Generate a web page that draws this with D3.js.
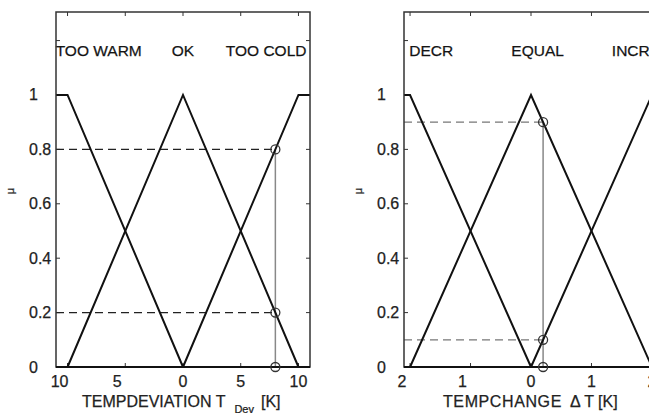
<!DOCTYPE html>
<html>
<head>
<meta charset="utf-8">
<script src="https://cdn.jsdelivr.net/npm/d3@7"></script>
<style>
  body { margin: 0; background: #fff; }
  svg { display: block; font-family: "Liberation Sans", Arial, sans-serif; }
  text { stroke: #222; stroke-width: 0.25px; }
</style>
</head>
<body>
<script>
// membership axis (shared by both panels)
var muDomain = [0, 1.305];
var muTicks = [0, 0.2, 0.4, 0.6, 0.8, 1, 1.2];
var muTickLabels = ["0", "0.2", "0.4", "0.6", "0.8", "1", ""];

// left panel: temperature deviation
var devDomain = [-11, 11];
var devTicks = [-10, -5, 0, 5, 10];
var devTickLabels = ["10", "5", "0", "5", "10"];
var devSetNames = ["TOO WARM", "OK", "TOO COLD"];
var devSetLabelX = [-7.3, 0, 7.2];
var devTooWarm = [[-11, 1], [-10, 1], [0, 0]];
var devOk = [[-10, 0], [0, 1], [10, 0]];
var devTooCold = [[0, 0], [10, 1], [11, 1]];
var devInput = 8;
var devHits = [0.8, 0.2, 0];

// right panel: temperature change
var chgDomain = [-2.1, 2.1];
var chgTicks = [-2, -1, 0, 1, 2];
var chgTickLabels = ["2", "1", "0", "1", "2"];
var chgSetNames = ["DECR", "EQUAL", "INCR"];
var chgSetLabelX = [-1.65, 0.11, 1.65];
var chgDecr = [[-2.1, 1], [-2, 1], [0, 0]];
var chgEqual = [[-2, 0], [0, 1], [2, 0]];
var chgIncr = [[0, 0], [2, 1], [2.1, 1]];
var chgInput = 0.2;
var chgHits = [0.9, 0.1, 0];

var svgWidth = 649;
var svgHeight = 413;

var svg = d3.select("body")
  .append("svg")
  .attr("width", svgWidth)
  .attr("height", svgHeight);

var plotTop = 12, plotBottom = 367;

function drawPanel(p) {
  var x = d3.scaleLinear().domain(p.domain).range([p.left, p.right]);
  var y = d3.scaleLinear().domain(muDomain).range([plotBottom, plotTop]);
  var g = svg.append("g");

  // inward ticks on all four sides (MATLAB box)
  g.selectAll(".xt").data(p.ticks).enter().append("line")
    .attr("x1", function (d) { return x(d); }).attr("x2", function (d) { return x(d); })
    .attr("y1", plotBottom).attr("y2", plotBottom - 4)
    .attr("stroke", "#333").attr("stroke-width", 1);
  g.selectAll(".xtt").data(p.ticks).enter().append("line")
    .attr("x1", function (d) { return x(d); }).attr("x2", function (d) { return x(d); })
    .attr("y1", plotTop).attr("y2", plotTop + 4)
    .attr("stroke", "#333").attr("stroke-width", 1);
  g.selectAll(".yt").data(muTicks).enter().append("line")
    .attr("x1", p.left).attr("x2", p.left + 4)
    .attr("y1", function (d) { return y(d); }).attr("y2", function (d) { return y(d); })
    .attr("stroke", "#333").attr("stroke-width", 1);
  g.selectAll(".ytr").data(muTicks).enter().append("line")
    .attr("x1", p.right).attr("x2", p.right - 4)
    .attr("y1", function (d) { return y(d); }).attr("y2", function (d) { return y(d); })
    .attr("stroke", "#333").attr("stroke-width", 1);

  // tick labels
  g.selectAll(".xl").data(p.ticks).enter().append("text")
    .attr("x", function (d) { return x(d) + (d < 0 ? -8 : 0); })
    .attr("y", 387)
    .attr("text-anchor", "middle")
    .style("font-size", "16px")
    .attr("fill", "#222")
    .text(function (d, i) { return p.tickLabels[i]; });
  g.selectAll(".yl").data(muTicks).enter().append("text")
    .attr("x", p.left - 27)
    .attr("y", function (d) { return y(d) + 5.5; })
    .attr("text-anchor", "start")
    .style("font-size", "16px")
    .attr("fill", "#222")
    .text(function (d, i) { return muTickLabels[i]; });

  // y label
  g.append("text")
    .attr("transform", "translate(" + (p.left - 42) + "," + 191 + ") rotate(-90)")
    .attr("text-anchor", "middle")
    .style("font-size", "11px")
    .attr("fill", "#333")
    .text("μ");

  // set names
  g.selectAll(".sn").data(p.setNames).enter().append("text")
    .attr("x", function (d, i) { return x(p.setLabelX[i]); })
    .attr("y", y(1.145))
    .attr("text-anchor", "middle")
    .style("font-size", "15.5px")
    .attr("fill", "#111")
    .text(function (d) { return d; });

  // dashed read-off lines
  g.selectAll(".dash").data(p.hits.filter(function (h) { return h > 0; })).enter().append("line")
    .attr("x1", p.left).attr("x2", x(p.input))
    .attr("y1", function (d) { return y(d); }).attr("y2", function (d) { return y(d); })
    .attr("stroke", p.dashColor).attr("stroke-width", 1.2)
    .attr("stroke-dasharray", "8,5");

  // vertical input line
  g.append("line")
    .attr("x1", x(p.input)).attr("x2", x(p.input))
    .attr("y1", y(0)).attr("y2", y(d3.max(p.hits)))
    .attr("stroke", "#888").attr("stroke-width", 1.5);

  // membership functions
  var line = d3.line()
    .x(function (d) { return x(d[0]); })
    .y(function (d) { return y(d[1]); });
  g.selectAll(".mf").data(p.sets).enter().append("path")
    .attr("d", line)
    .attr("fill", "none")
    .attr("stroke", "#111")
    .attr("stroke-width", 2);

  // frame
  g.append("rect")
    .attr("x", p.left).attr("y", plotTop)
    .attr("width", p.right - p.left).attr("height", plotBottom - plotTop)
    .attr("fill", "none").attr("stroke", "#333").attr("stroke-width", 1.5);
  g.append("line")
    .attr("x1", p.left).attr("x2", p.right)
    .attr("y1", plotBottom).attr("y2", plotBottom)
    .attr("stroke", "#111").attr("stroke-width", 2);

  // hit circles
  g.selectAll(".hit").data(p.hits).enter().append("circle")
    .attr("cx", x(p.input))
    .attr("cy", function (d) { return y(d); })
    .attr("r", 4.5)
    .attr("fill", "none")
    .attr("stroke", "#333")
    .attr("stroke-width", 1.3);

  return { x: x, g: g };
}

var leftPanel = drawPanel({
  left: 56, right: 310,
  domain: devDomain, ticks: devTicks, tickLabels: devTickLabels,
  setNames: devSetNames, setLabelX: devSetLabelX,
  sets: [devTooWarm, devOk, devTooCold],
  input: devInput, hits: devHits, dashColor: "#222"
});

var rightPanel = drawPanel({
  left: 404, right: 658,
  domain: chgDomain, ticks: chgTicks, tickLabels: chgTickLabels,
  setNames: chgSetNames, setLabelX: chgSetLabelX,
  sets: [chgDecr, chgEqual, chgIncr],
  input: chgInput, hits: chgHits, dashColor: "#777"
});

// x axis titles
var lt = leftPanel.g.append("text")
  .attr("x", 82).attr("y", 407)
  .style("font-size", "16px")
  .attr("fill", "#222");
lt.append("tspan").text("TEMPDEVIATION T");
lt.append("tspan").attr("dx", 9).attr("dy", 6).style("font-size", "11px").text("Dev");
lt.append("tspan").attr("dx", 7).attr("dy", -6).text("[K]");

var rt = rightPanel.g.append("text")
  .attr("x", 443).attr("y", 407)
  .style("font-size", "16px")
  .attr("fill", "#222");
rt.append("tspan").style("letter-spacing", "0.6px").text("TEMPCHANGE");
rt.append("tspan").attr("dx", 8).text("\u0394 T [K]");
</script>
</body>
</html>
